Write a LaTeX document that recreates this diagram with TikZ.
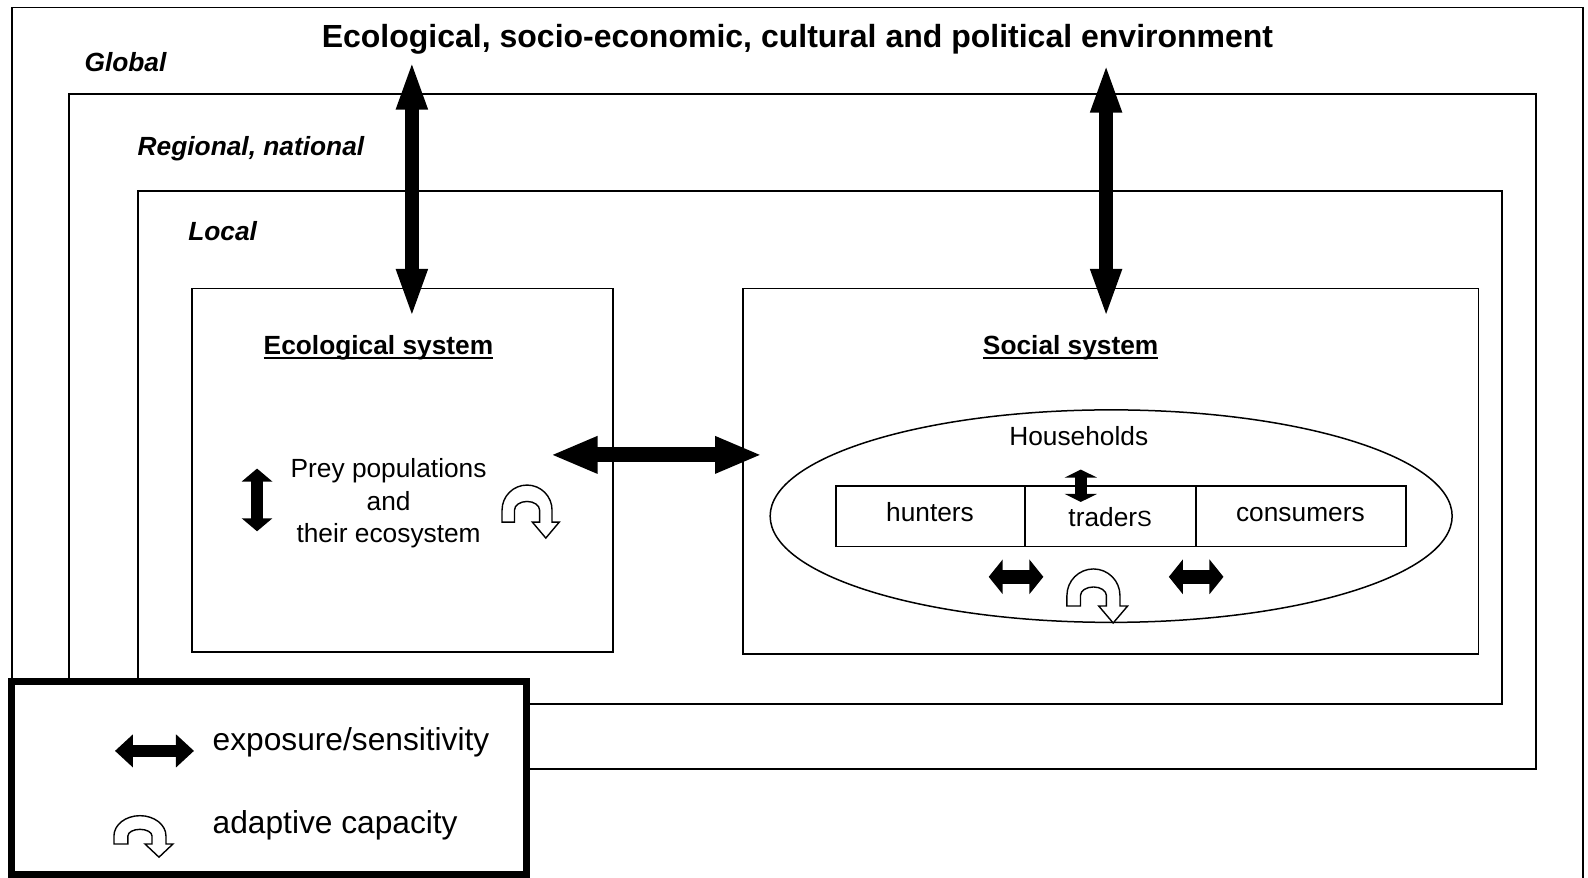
\documentclass[tikz,border=0pt]{standalone}
\usepackage{fontspec}
\setmainfont{Liberation Sans}
\usetikzlibrary{arrows.meta,shapes.geometric,fit}
\newcommand\myul[1]{\setbox0\hbox{#1}\rlap{\rule[-4.5pt]{\wd0}{2pt}}\box0}
% cx cy Rx Ry rx ry h hw hl
\newcommand\adaptarrow[9]{%
  \draw[adapt]
  ({#1-#3},{#2+#7}) -- ({#1-#3},#2)
  arc[start angle=180, end angle=360, x radius=#3, y radius=#4]
  -- ({#1+#3},{#2+#7}) -- ({#1+(#3+#5)/2+#8},{#2+#7})
  -- ({#1+(#3+#5)/2},{#2+#7+#9}) -- ({#1+(#3+#5)/2-#8},{#2+#7})
  -- ({#1+#5},{#2+#7}) -- ({#1+#5},#2)
  arc[start angle=360, end angle=180, x radius=#5, y radius=#6]
  -- ({#1-#5},{#2+#7}) -- cycle;}
\tikzset{
  box/.style={draw, line width=1.8pt, inner sep=0pt},
  legendbox/.style={draw, line width=7pt, fill=white, inner sep=0pt},
  adapt/.style={draw, line width=1.4pt, fill=white, line join=miter},
  dblarrow/.style n args={3}{line width=#1, {Triangle[width=#2,length=#3]}-{Triangle[width=#2,length=#3]}},
  titletext/.style={font=\fontsize{32}{36}\selectfont\bfseries, inner sep=0pt, text height=23pt, text depth=6.7pt},
  lvl/.style={font=\fontsize{26.3}{30}\selectfont\bfseries\itshape, inner sep=0pt, text height=19pt, text depth=5.5pt},
  syslbl/.style={font=\fontsize{26.3}{30}\selectfont\bfseries, inner sep=0pt, text height=19pt, text depth=5.5pt},
  txt/.style={font=\fontsize{26.3}{30}\selectfont, inner sep=0pt, text height=19pt, text depth=5.5pt},
  multitxt/.style={font=\fontsize{26.3}{32.4}\selectfont, inner sep=0pt, align=center},
  legtxt/.style={font=\fontsize{31.7}{36}\selectfont, inner sep=0pt, text height=22.8pt, text depth=6.6pt, anchor=west},
}
\begin{document}
\begin{tikzpicture}[x=1.012pt,y=-1.012pt]
\useasboundingbox (0,0) rectangle (1569.2,867.6);
\clip (0,0) rectangle (1569.2,867.6);
\fill[white] (0,0) rectangle (1569.2,867.6);

% nested level boxes
\node[box, fit={(12,7.5) (1564,882)}] (global) {};
\node[box, fit={(68,93) (1518,760)}] (regional) {};
\node[box, fit={(136,189) (1484,696)}] (local) {};
\node[box, fit={(190,285) (606,644)}] (eco) {};
\node[box, fit={(734,285) (1461,646)}] (social) {};

% title and level labels
\node[titletext] (env) at (788,39) {Ecological, socio-economic, cultural and political environment};
\node[lvl] (lglobal) at (124,64) {Global};
\node[lvl] (lregional) at (248,147) {Regional, national};
\node[lvl] (llocal) at (220,231) {Local};

% system titles
\node[syslbl] (ecotitle) at (374,344) {\myul{Ecological system}};
\node[syslbl] (soctitle) at (1058,344) {\myul{Social system}};

% ecological content
\node[multitxt] (prey) at (384,497.5) {Prey populations\\and\\their ecosystem};

% households
\node[draw, ellipse, line width=1.5pt, inner sep=0pt, minimum width=682pt, minimum height=212.5pt] (hh) at (1098,510) {};
\node[txt] (hhlbl) at (1066,434) {Households};
\node[box, fit={(826,480) (1013,540)}] (hunt) {};
\node[box, fit={(1013,480) (1182,540)}] (trad) {};
\node[box, fit={(1182,480) (1389,540)}] (cons) {};
\node[txt] (huntlbl) at (919,509) {hunters};
\node[txt] (tradlbl) at (1097,513.5) {trader{\fontsize{22}{22}\selectfont S}};
\node[txt] (conslbl) at (1285,509) {consumers};

% big exposure arrows
\coordinate (v1a) at (407,59);  \coordinate (v1b) at (407,315);
\coordinate (v2a) at (1093,62); \coordinate (v2b) at (1093,315);
\coordinate (ha) at (544,449.5); \coordinate (hb) at (753,449.5);
\draw[dblarrow={14pt}{28pt}{50pt}] (v1a) -- (v1b);
\draw[dblarrow={14pt}{28pt}{50pt}] (v2a) -- (v2b);
\draw[dblarrow={15pt}{34pt}{47pt}] (ha) -- (hb);

% small exposure arrows
\coordinate (ea) at (254,463); \coordinate (eb) at (254,525);
\draw[dblarrow={12pt}{30pt}{13pt}] (ea) -- (eb);
\coordinate (ta) at (1068,464); \coordinate (tb) at (1068,496);
\draw[dblarrow={12pt}{32pt}{8pt}] (ta) -- (tb);
\coordinate (s1a) at (977,570); \coordinate (s1b) at (1031,570);
\draw[dblarrow={14pt}{34pt}{14pt}] (s1a) -- (s1b);
\coordinate (s2a) at (1155,570); \coordinate (s2b) at (1209,570);
\draw[dblarrow={14pt}{34pt}{14pt}] (s2a) -- (s2b);

% adaptive capacity symbols
\adaptarrow{520.8}{504}{24.7}{24.7}{12.4}{8.5}{11.9}{13.3}{15.8}
\adaptarrow{1080.5}{588.4}{26.2}{26.2}{12.8}{8.4}{10.4}{14.3}{16.8}

% legend
\node[legendbox, fit={(11.5,673) (520,864)}] (legend) {};
\coordinate (la) at (113.6,742); \coordinate (lb) at (191.7,742);
\draw[dblarrow={12pt}{32pt}{18pt}] (la) -- (lb);
\node[legtxt] (legexp) at (210,734) {exposure/sensitivity};
\adaptarrow{138.3}{826}{25.7}{20}{11.9}{6.5}{8}{13.8}{13}
\node[legtxt] (legadapt) at (210,816) {adaptive capacity};
\end{tikzpicture}
\end{document}
